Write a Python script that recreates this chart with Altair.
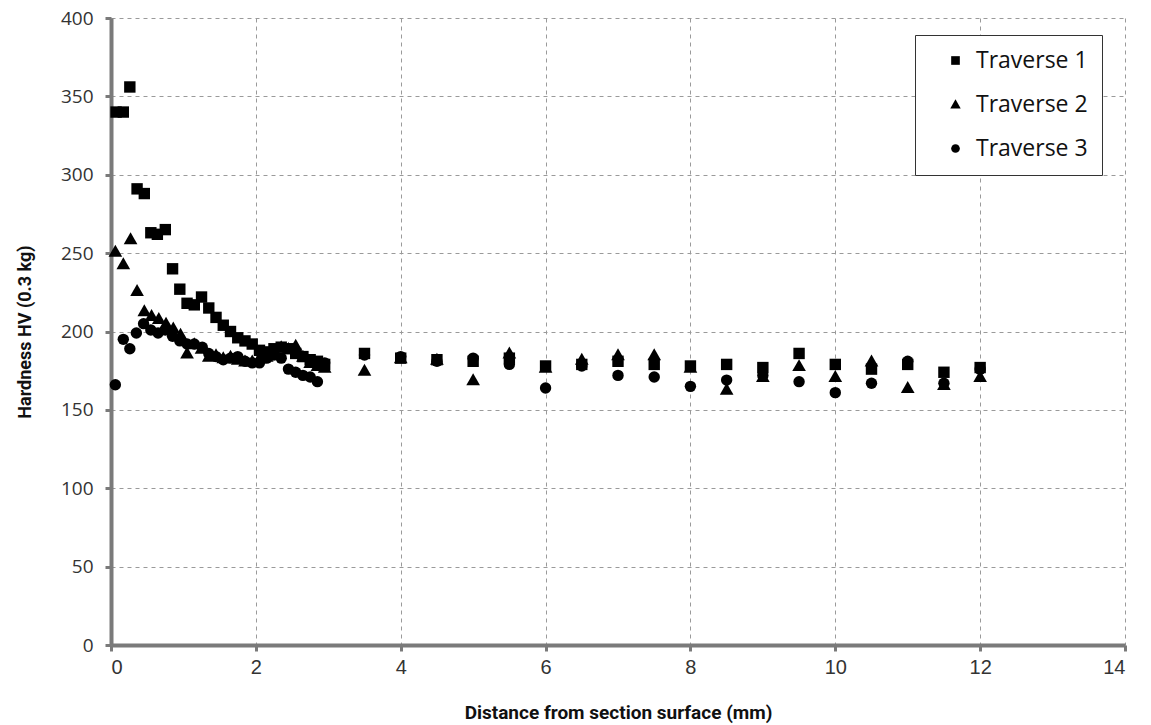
import altair as alt
import pandas as pd

# ---- data ----
t1_x = [0.07, 0.17, 0.26, 0.36, 0.46, 0.55, 0.64, 0.75, 0.85, 0.95, 1.05, 1.15, 1.25, 1.35, 1.45,
        1.55, 1.65, 1.75, 1.85, 1.95, 2.05, 2.15, 2.25, 2.35, 2.45, 2.55, 2.65, 2.75, 2.85, 2.95,
        3.5, 4, 4.5, 5, 5.5, 6, 6.5, 7, 7.5, 8, 8.5, 9, 9.5, 10, 10.5, 11, 11.5, 12]
t1_y = [340, 340, 356, 291, 288, 263, 262, 265, 240, 227, 218, 217, 222, 215, 209,
        204, 200, 196, 194, 192, 188, 187, 189, 190, 189, 186, 184, 182, 181, 179,
        186, 183, 182, 181, 183, 178, 179, 181, 179, 178, 179, 177, 186, 179, 176, 179, 174, 177]

t2_x = [0.06, 0.17, 0.27, 0.36, 0.46, 0.56, 0.66, 0.76, 0.86, 0.96, 1.05, 1.15, 1.25, 1.35, 1.45,
        1.55, 1.65, 1.75, 1.85, 1.95, 2.05, 2.15, 2.25, 2.35, 2.45, 2.55, 2.65, 2.75, 2.85, 2.95,
        3.5, 4, 4.5, 5, 5.5, 6, 6.5, 7, 7.5, 8, 8.5, 9, 9.5, 10, 10.5, 11, 11.5, 12]
t2_y = [251, 243, 259, 226, 213, 210, 208, 205, 202, 198, 186, 192, 189, 184, 185,
        183, 184, 182, 181, 181, 183, 184, 187, 190, 189, 191, 184, 180, 178, 177,
        175, 183, 182, 169, 186, 177, 182, 185, 185, 177, 163, 171, 178, 171, 181, 164, 166, 171]

t3_x = [0.06, 0.17, 0.26, 0.35, 0.45, 0.55, 0.65, 0.75, 0.85, 0.95, 1.05, 1.15, 1.26, 1.35, 1.45,
        1.55, 1.65, 1.75, 1.85, 1.95, 2.05, 2.15, 2.25, 2.35, 2.45, 2.55, 2.65, 2.75, 2.85, 2.95,
        3.5, 4, 4.5, 5, 5.5, 6, 6.5, 7, 7.5, 8, 8.5, 9, 9.5, 10, 10.5, 11, 11.5, 12]
t3_y = [166, 195, 189, 199, 205, 201, 199, 201, 197, 194, 192, 192, 190, 186, 184,
        182, 183, 184, 181, 180, 180, 183, 185, 183, 176, 174, 172, 171, 168, 180,
        185, 184, 181, 183, 179, 164, 178, 172, 171, 165, 169, 172, 168, 161, 167, 181, 167, 176]

series = ["Traverse 1", "Traverse 2", "Traverse 3"]
# square, enlarged triangle (custom path), circle
shapes = ["square", "M0,-1.2L1.2,0.9L-1.2,0.9Z", "circle"]

rows = []
for name, xs, ys in zip(series, [t1_x, t2_x, t3_x], [t1_y, t2_y, t3_y]):
    for a, b in zip(xs, ys):
        rows.append({"Distance": a, "Hardness": b, "Series": name})
df = pd.DataFrame(rows)

narrow_bold = "Liberation Sans Narrow, Roboto, Liberation Sans"
axis_gray = "#7a7a7a"

chart = alt.Chart(df).mark_point(filled=True, opacity=1, color="black", size=130).encode(
    x=alt.X("Distance:Q", scale=alt.Scale(domain=[0, 14], nice=False),
            axis=alt.Axis(values=list(range(0, 15, 2)), format="d",
                          title="Distance from section surface (mm)",
                          domain=True, domainColor=axis_gray, domainWidth=4,
                          ticks=True, tickColor=axis_gray, tickWidth=3, tickSize=6,
                          grid=True, gridColor="#9a9a9a", gridDash=[4, 4], gridWidth=1,
                          labelFont="Liberation Sans Narrow, Liberation Sans", labelFontSize=20,
                          labelColor="#333", labelPadding=6,
                          titleFont=narrow_bold, titleFontSize=19, titleColor="#111",
                          titleFontWeight="bold", titlePadding=26)),
    y=alt.Y("Hardness:Q", scale=alt.Scale(domain=[0, 400], nice=False),
            axis=alt.Axis(values=list(range(0, 401, 50)), format="d",
                          title="Hardness HV (0.3 kg)",
                          domain=True, domainColor=axis_gray, domainWidth=4,
                          ticks=True, tickColor=axis_gray, tickWidth=3, tickSize=6,
                          grid=True, gridColor="#9a9a9a", gridDash=[4, 4], gridWidth=1,
                          labelFont="Open Sans", labelFontSize=19, labelColor="#333",
                          labelPadding=12,
                          titleFont=narrow_bold, titleFontSize=18, titleColor="#111",
                          titleFontWeight="bold", titlePadding=26)),
    shape=alt.Shape("Series:N", scale=alt.Scale(domain=series, range=shapes),
                    legend=alt.Legend(title=None, orient="none", legendX=804, legendY=17,
                                      labelFont="Open Sans", labelFontSize=23, labelColor="#111",
                                      symbolSize=75, symbolFillColor="black", symbolStrokeColor="black",
                                      symbolOffset=15, rowPadding=20, padding=14,
                                      labelOffset=9,
                                      labelExpr="datum.label + '\u00a0\u00a0\u00a0\u00a0'",
                                      strokeColor="#333", fillColor="white")),
).properties(
    width=1014, height=627,
    padding={"left": 16, "top": 9, "right": 5, "bottom": 5},
).configure_view(strokeWidth=0)

chart.save("out.html", embed_options={"renderer": "svg", "actions": False})
